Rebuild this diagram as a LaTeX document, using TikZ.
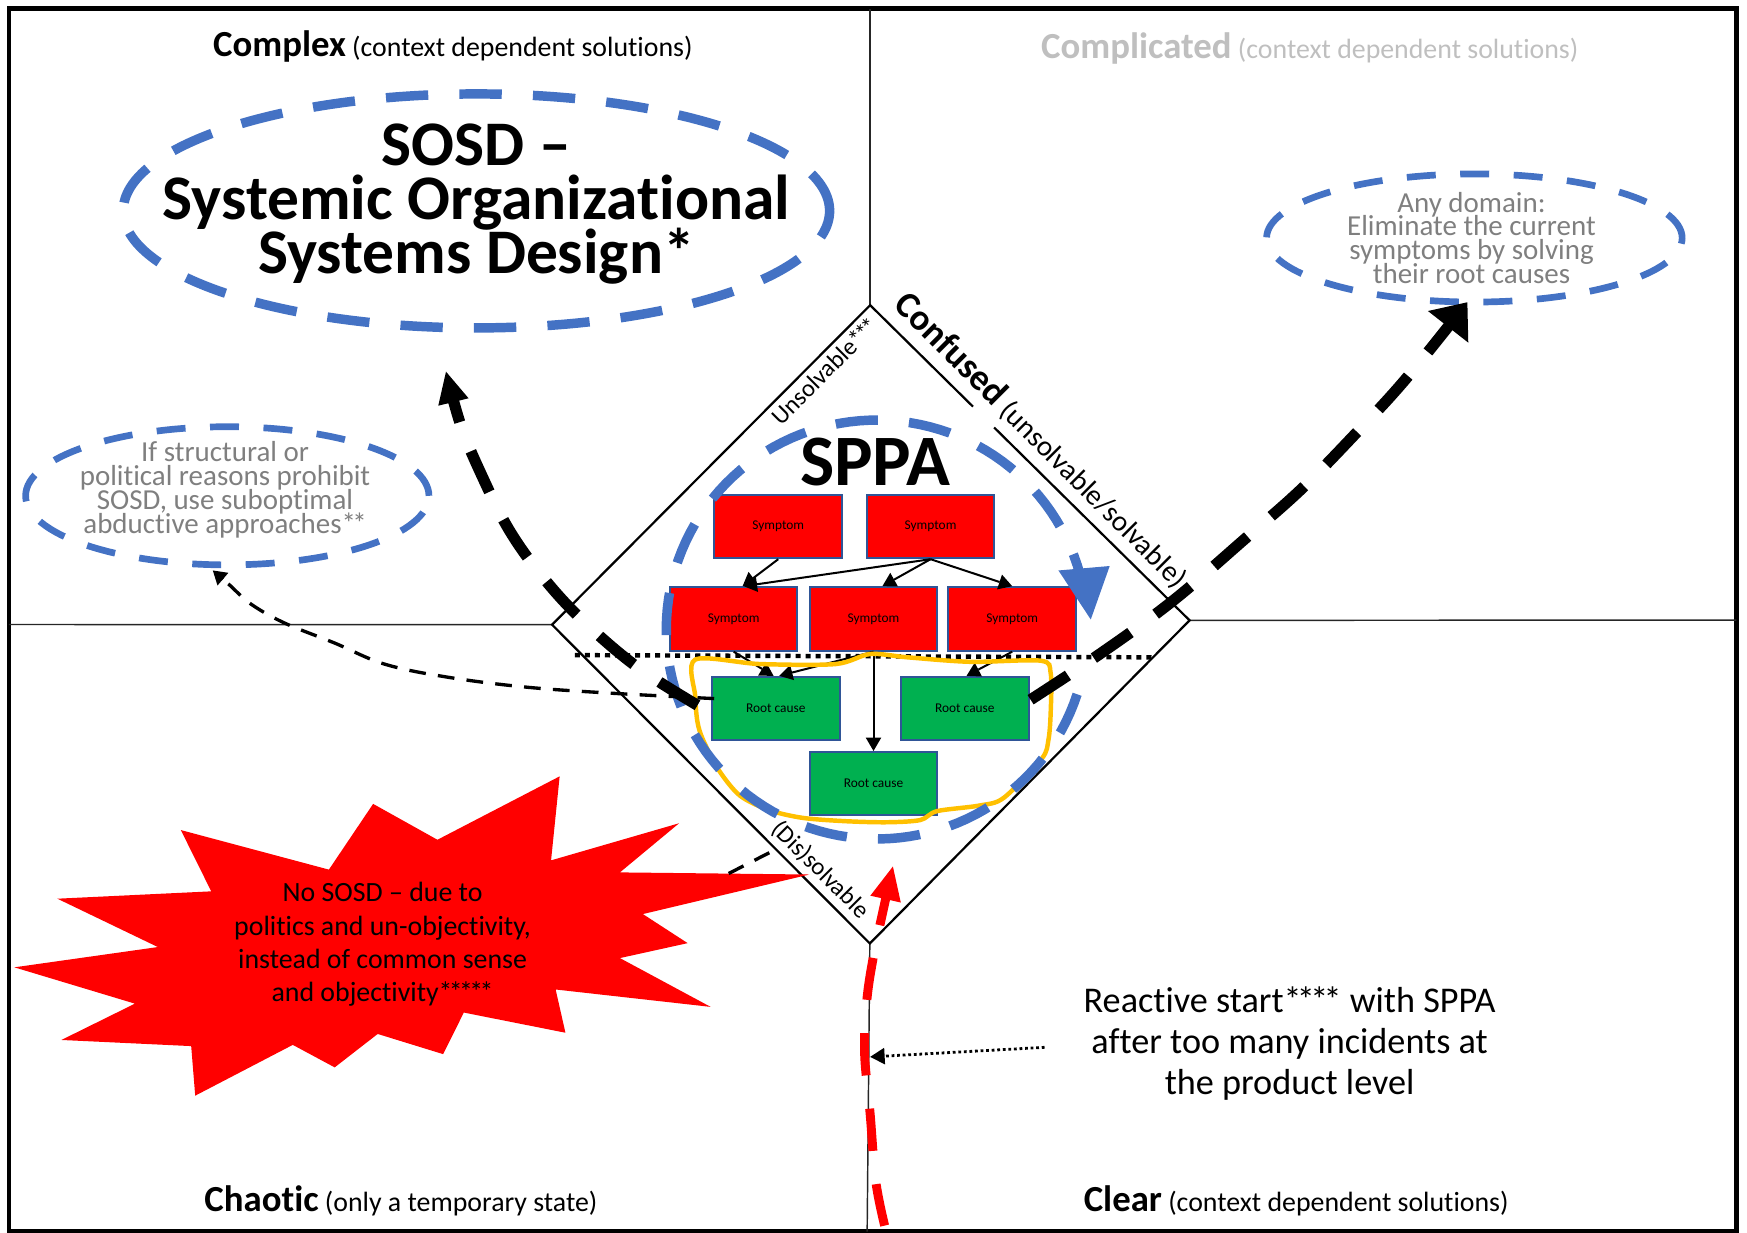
\documentclass[tikz,border=0pt]{standalone}
\usepackage{fontspec}
\setmainfont{Carlito}[Ligatures={TeX,NoCommon}]
\usetikzlibrary{arrows.meta,calc,shapes.geometric}
\definecolor{sblue}{HTML}{4472C4}
\definecolor{bxred}{HTML}{FF0000}
\definecolor{bxgreen}{HTML}{00B050}
\definecolor{bxborder}{HTML}{2F5597}
\definecolor{goldline}{HTML}{FFC000}
\definecolor{graytxt}{HTML}{7F7F7F}
\definecolor{lighttxt}{HTML}{BFBFBF}
\newcommand\fsz[2]{\fontsize{#1}{#2}\selectfont\lineskiplimit=-100pt\relax}
\newcommand\kst{\kern-0.13em}
\begin{document}
\begin{tikzpicture}[x=1pt,y=-1pt,
  quadline/.style={line width=1.3pt, draw=black!85},
  sym/.style={draw=bxborder, line width=1.8pt, fill=bxred, minimum width=114.5pt, minimum height=57pt, inner sep=0pt, font=\fsz{12}{14}},
  rootbox/.style={sym, fill=bxgreen},
  flow/.style={line width=1.8pt, -{Triangle[width=14pt,length=12pt,line width=0pt]}},
  bigdash/.style={line width=10pt, black, dash pattern=on 40pt off 28pt},
  bluedash/.style={line width=8.5pt, draw=sblue, dash pattern=on 38pt off 28pt},
  smalldash/.style={line width=6pt, draw=sblue, dash pattern=on 26pt off 22pt},
  thindash/.style={line width=3pt, black, dash pattern=on 15pt off 11pt},
  txt/.style={inner sep=0pt, align=center}]
\useasboundingbox (0,0) rectangle (1568,1106.6);

% frame
\draw[line width=4pt] (8,7.5) rectangle (1558.5,1105.5);

% diamond corners
\coordinate (dT) at (781,273.9);
\coordinate (dR) at (1067.7,556.8);
\coordinate (dB) at (780.7,846.8);
\coordinate (dL) at (495.5,560.7);

% quadrant lines
\draw[quadline] (781,8) -- (dT);
\draw[quadline] (8,560.5) -- (dL);
\draw[quadline] (dR) -- (1558.5,556.5);
\draw[quadline] (dB) -- (778.3,1105.5);

% diamond
\draw[line width=2pt] ($(dT)!0.322!(dR)$) -- (dT) -- (dL) -- (dB) -- (dR) -- ($(dT)!0.388!(dR)$);

% starburst
\fill[bxred] (12.9,868.2) -- (141.7,850) -- (51.5,806.6) -- (189.6,800) -- (162.3,745) -- (295.2,780.5) -- (334.9,721.5) -- (392.6,753.7) -- (502.3,696.8) -- (494.6,772.2) -- (609.5,738.9) -- (556.4,783) -- (726.4,784.9) -- (577,820.4) -- (617.2,846.5) -- (556.4,859.9) -- (637.8,903.7) -- (498.7,888.1) -- (507.5,926.9) -- (416.3,908.8) -- (397.7,946.1) -- (339,928) -- (300.4,958) -- (262.8,937.8) -- (175.2,983.4) -- (171.6,938.9) -- (55.1,933.4) -- (121.1,900.8) -- cycle;
\node[txt, font=\fsz{25}{30}] (burst) at (343.4,847.7) {No SOSD – due to\\politics and un-objectivity,\\instead of common sense\\and objectivity*\kst*\kst*\kst*\kst*};

% quadrant titles
\node[inner sep=0pt, anchor=base, font=\fsz{25}{25}] (tcomplex) at (406.5,51) {{\bfseries\fsz{33}{33}Complex} (context dependent solutions)};
\node[inner sep=0pt, anchor=base, font=\fsz{25}{25}, text=lighttxt] (tcomplicated) at (1175.6,52.5) {{\bfseries\fsz{33}{33}Complicated} (context dependent solutions)};
\node[inner sep=0pt, anchor=base, font=\fsz{25}{25}] (tchaotic) at (359.8,1087.4) {{\bfseries\fsz{33}{33}Chaotic} (only a temporary state)};
\node[inner sep=0pt, anchor=base, font=\fsz{25}{25}] (tclear) at (1163.4,1087.4) {{\bfseries\fsz{33}{33}Clear} (context dependent solutions)};

% ellipses
\node[ellipse, bluedash, minimum width=634pt, minimum height=210pt, inner sep=0pt] (sosdE) at (427.6,189.3) {};
\node[txt, font=\bfseries\fsz{57}{48.5}] (sosd) at (427.6,183) {SOSD –\\Systemic Organizational\\Systems Design*};
\node[ellipse, smalldash, minimum width=362pt, minimum height=124pt, inner sep=0pt] (abdE) at (204,445) {};
\node[txt, font=\fsz{26}{21.3}, text=graytxt] (abd) at (202,439.6) {If structural or\\political reasons prohibit\\SOSD, use suboptimal\\abductive approaches*\kst*};
\node[ellipse, smalldash, minimum width=373pt, minimum height=115pt, inner sep=0pt] (anyE) at (1323.3,213.6) {};
\node[txt, font=\fsz{26}{21.5}, text=graytxt] (any) at (1320.7,213.6) {Any domain:\\Eliminate the current\\symptoms by solving\\their root causes};

% diamond labels
\node[inner sep=0pt, rotate=45, font=\fsz{22}{22}] (unsolv) at (740,333) {Unsolvable*\kst*\kst*};
\node[inner sep=0pt, rotate=-45, font=\fsz{22}{22}] (dissolv) at (736.3,780.7) {(Dis)solvable};
\node[inner sep=0pt, anchor=base west, rotate=-45, font=\fsz{26}{26}] (confused) at (801,275) {{\bfseries\fsz{33}{33}Confused} (unsolvable/solvable)};

% SPPA
\node[inner sep=0pt, anchor=base, font=\bfseries\fsz{65}{65}] (sppa) at (785.6,436) {SPPA};

% boxes
\node[sym] (s1) at (698.5,472.5) {Symptom};
\node[sym] (s2) at (835.2,472.5) {Symptom};
\node[sym] (s3) at (658.5,555.5) {Symptom};
\node[sym] (s4) at (784,555.5) {Symptom};
\node[sym] (s5) at (908.5,555.5) {Symptom};
\node[rootbox] (r1) at (696.3,636) {Root cause};
\node[rootbox] (r2) at (866,636) {Root cause};
\node[rootbox] (r3) at (784,703.4) {Root cause};

% box arrows
\draw[flow] (s1.south) -- ([xshift=8pt]s3.north);
\draw[flow] (s2.south) -- ([xshift=9pt]s3.north);
\draw[flow] (s2.south) -- ([xshift=8pt]s4.north);
\draw[flow] (s2.south) -- (s5.north);
\draw[flow] (s3.south) -- ([xshift=-2pt]r1.north);
\draw[flow] (s4.south) -- ([xshift=3pt]r1.north);
\draw[flow] (s4.south) -- (r3.north);
\draw[flow] (s5.south) -- ([xshift=1.5pt]r2.north);

% dotted separator
\coordinate (dotL) at (516,588);
\coordinate (dotR) at (1037.5,590);
\draw[line width=4pt, dash pattern=on 4.5pt off 4.5pt] (dotL) -- (dotR);

% yellow outline
\draw[goldline, line width=4pt] plot[smooth cycle, tension=0.5] coordinates {(624,592) (682,596) (750,596) (781,587) (815,590) (871,594) (934,593) (943,604) (943,640) (941,664) (935,681) (901,716) (879,723) (841,728) (826,736) (796,738) (758,737) (720,734) (690,727) (664,714) (645,691) (631,664) (626,648) (624,625)};

% SPPA circle
\draw[bluedash] plot[domain=18:345, samples=120, variable=\t] ({787+189*cos(\t)}, {565+188*sin(\t)});
\fill[sblue] (950,512) -- (996,508) -- (979,556) -- cycle;

% thin dashed to abductive ellipse
\draw[thindash, -{Triangle[width=15pt,length=12pt,line width=0pt]}] plot[smooth, tension=0.6] coordinates {(641,627) (546,622) (470,616.5) (400,607.5) (345,596) (300,577) (255,559) (225,542) (206,525) (191,512)};
% starburst to diamond
\coordinate (burstTip) at (654,784);
\coordinate (edgeDis) at (697,762);
\draw[thindash] (burstTip) -- (edgeDis);

% big dashed arrows
\draw[bigdash, -{Triangle[width=28pt,length=28pt,line width=0pt]}] plot[smooth, tension=0.6] coordinates {(626,633) (571,598) (520,554) (484,514) (456,474) (433,428) (414,383) (400.3,333.6)};
\draw[bigdash, -{Triangle[width=46pt,length=28pt,line width=0pt]}] plot[smooth, tension=0.6] coordinates {(925,628) (990,585) (1053,539) (1117,484) (1168,439) (1215,391) (1261,341) (1317,271.3)};

% red dashed arrow
\draw[line width=8pt, bxred, dash pattern=on 38pt off 30pt, -{Triangle[width=28pt,length=30pt,line width=0pt]}] plot[smooth, tension=0.6] coordinates {(794,1100) (786,1060) (781,1000) (776,945) (778,898) (784,858) (792,820) (801.4,777.7)};

% reactive text and dotted arrow
\node[txt, font=\fsz{32.5}{36.6}] (react) at (1157.5,936.8) {Reactive start*\kst*\kst*\kst* with SPPA\\after too many incidents at\\the product level};
\coordinate (reactFrom) at (937.5,940);
\coordinate (redHit) at (781,948.6);
\draw[line width=2.5pt, dash pattern=on 2.5pt off 2.5pt, -{Triangle[width=15pt,length=13pt,line width=0pt]}] (reactFrom) -- (redHit);
\end{tikzpicture}
\end{document}
